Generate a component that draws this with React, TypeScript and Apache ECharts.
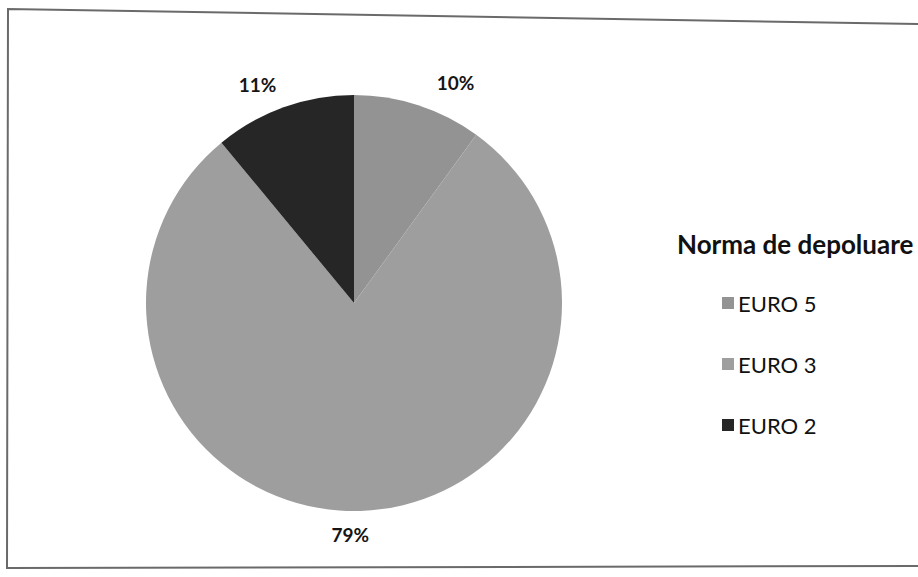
import React, { useEffect, useRef } from "react";
import * as echarts from "echarts";

const categories = ["EURO 5", "EURO 3", "EURO 2"];
const values = [10, 79, 11];
const colors = ["#939393", "#9e9e9e", "#262626"];
const legendTitle = "Norma de depoluare";

export default function App() {
  const ref = useRef<HTMLDivElement>(null);
  useEffect(() => {
    if (!ref.current) return;
    const chart = echarts.init(ref.current, undefined, { renderer: "svg" });
    chart.setOption({
      animation: false,
      backgroundColor: "#ffffff",
      title: {
        text: legendTitle,
        left: 672,
        top: 226,
        textStyle: {
          fontFamily: "Lato",
          fontWeight: "bold",
          fontSize: 26,
          color: "#111111",
        },
      },
      legend: {
        orient: "vertical",
        left: 717,
        top: 287,
        itemWidth: 12,
        itemHeight: 12,
        itemGap: 39,
        icon: "rect",
        data: categories,
        textStyle: {
          fontFamily: "Lato",
          fontSize: 22,
          color: "#111111",
          padding: [0, 0, 0, -1],
        },
      },
      graphic: [
        {
          type: "polyline",
          shape: {
            points: [
              [918, 24],
              [8, 9],
              [7, 568],
              [918, 566],
            ],
          },
          style: { stroke: "#6a6a6a", lineWidth: 2, fill: null },
          silent: true,
        },
      ],
      series: [
        {
          type: "pie",
          center: [354, 303],
          radius: 208,
          startAngle: 90,
          clockwise: true,
          avoidLabelOverlap: false,
          data: categories.map((name, i) => ({
            name,
            value: values[i],
            itemStyle: { color: colors[i] },
          })),
          label: {
            show: true,
            position: "outside",
            formatter: (p: any) => Math.round(p.percent) + "%",
            fontFamily: "Lato",
            fontWeight: "bold",
            fontSize: 19,
            color: "#151515",
          },
          labelLine: { show: false, length: 24, length2: 0 },
          labelLayout: (params: any) => {
            if (params.labelRect.y > 303) {
              return { align: "center", dx: -16 };
            }
            return { dx: 6 };
          },
          emphasis: { disabled: true },
        },
      ],
    });
    return () => chart.dispose();
  }, []);
  return (
    <div
      ref={ref}
      style={{ position: "fixed", left: 0, top: 0, width: 918, height: 577 }}
    />
  );
}
